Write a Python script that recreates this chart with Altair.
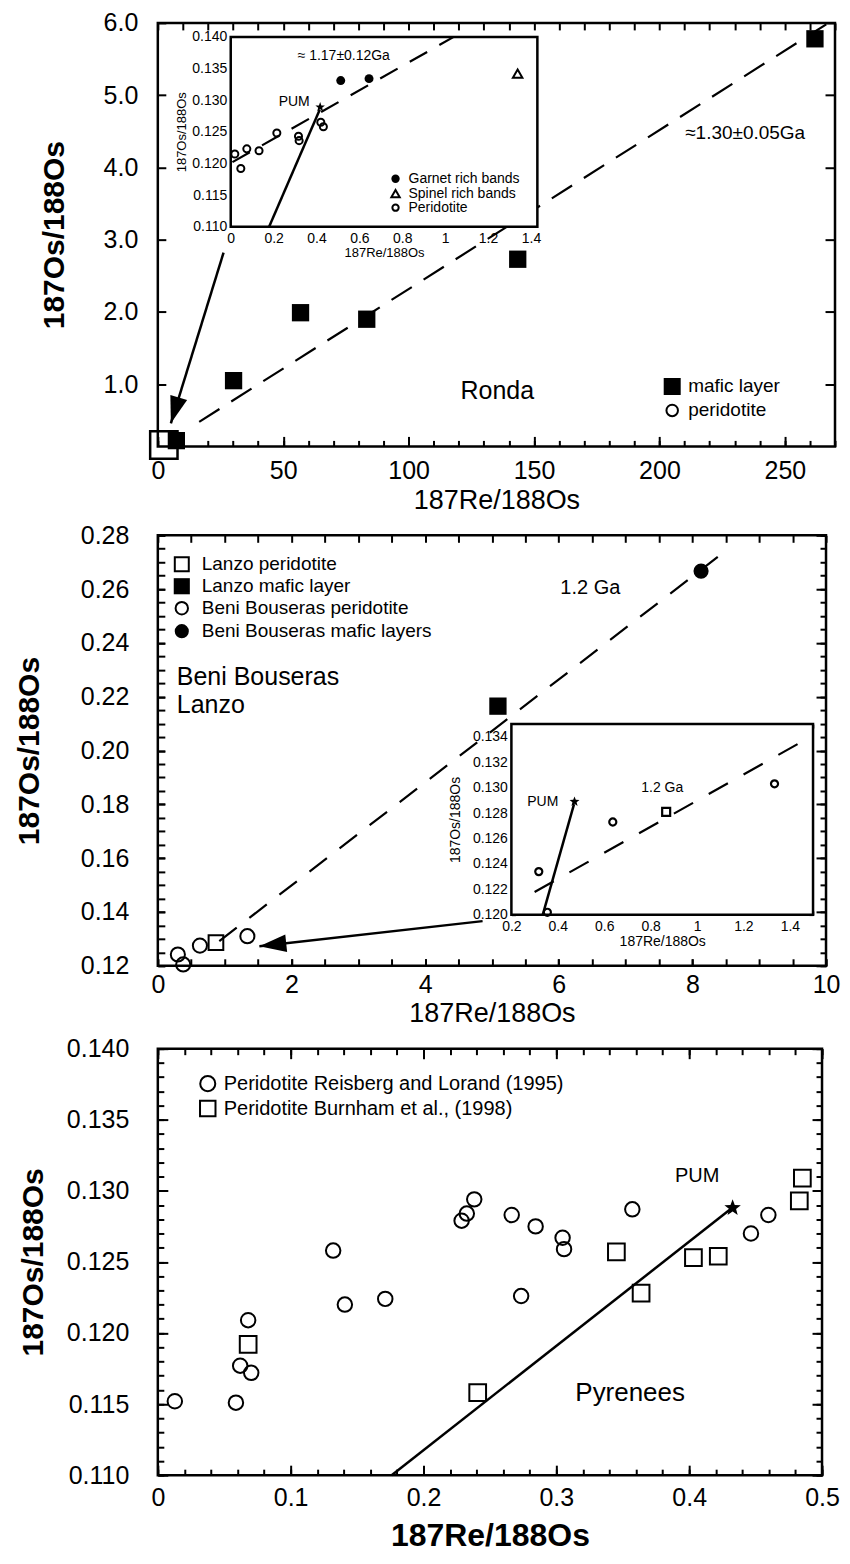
import math
import altair as alt
import pandas as pd

FONT = "Liberation Sans"

# ================= Panel 1 : Ronda =================
p1_xdom = [0, 270]
p1_ydom = [0.14, 6.0]
p1_xticks = [0, 50, 100, 150, 200, 250]
p1_xminor = list(range(0, 271, 10))
p1_yticks = [1.0, 2.0, 3.0, 4.0, 5.0, 6.0]
p1_mafic_x = [7.4, 30.2, 56.9, 83.3, 143.5, 262.0]
p1_mafic_y = [0.22, 1.05, 1.99, 1.90, 2.73, 5.78]
p1_box_x = [2.4]
p1_box_y = [0.16]
p1_iso_x = [16.5, 266.5]
p1_iso_y = [0.48, 5.98]
p1_arrow_x = [26.2, 5.2]
p1_arrow_y = [2.82, 0.46]

# inset of panel 1
i1_xdom = [0, 1.43]
i1_ydom = [0.110, 0.140]
i1_xticks = [0, 0.2, 0.4, 0.6, 0.8, 1.0, 1.2, 1.4]
i1_yticks = [0.110, 0.115, 0.120, 0.125, 0.130, 0.135, 0.140]
i1_garnet_x = [0.513, 0.645]
i1_garnet_y = [0.1331, 0.1334]
i1_spinel_x = [1.338]
i1_spinel_y = [0.1342]
i1_perid_x = [0.019, 0.047, 0.075, 0.132, 0.215, 0.316, 0.319, 0.420, 0.432]
i1_perid_y = [0.1215, 0.1192, 0.1223, 0.1220, 0.1248, 0.1243, 0.1236, 0.1265, 0.1258]
i1_pum_x = [0.417]
i1_pum_y = [0.1289]
i1_pumline_x = [0.179, 0.415]
i1_pumline_y = [0.110, 0.1285]
i1_iso_x = [0.008, 1.04]
i1_iso_y = [0.1202, 0.140]

# ================= Panel 2 : Beni Bouseras / Lanzo =================
p2_xdom = [0, 10]
p2_ydom = [0.12, 0.28]
p2_xticks = [0, 2, 4, 6, 8, 10]
p2_xminor = [round(0.5 * i, 1) for i in range(21)]
p2_yticks = [0.12, 0.14, 0.16, 0.18, 0.20, 0.22, 0.24, 0.26, 0.28]
p2_yminor = [round(0.12 + 0.005 * i, 3) for i in range(33)]
p2_lanzo_per_x = [0.87]
p2_lanzo_per_y = [0.1286]
p2_lanzo_maf_x = [5.09]
p2_lanzo_maf_y = [0.2165]
p2_beni_per_x = [0.30, 0.38, 0.63, 1.34]
p2_beni_per_y = [0.1242, 0.1205, 0.1275, 0.1310]
p2_beni_maf_x = [8.13]
p2_beni_maf_y = [0.2667]
p2_iso_x = [0.92, 8.55]
p2_iso_y = [0.1292, 0.2752]
p2_arrow_x = [4.86, 1.52]
p2_arrow_y = [0.1366, 0.1273]

# inset of panel 2
i2_xdom = [0.2, 1.5]
i2_ydom = [0.120, 0.135]
i2_xticks = [0.2, 0.4, 0.6, 0.8, 1.0, 1.2, 1.4]
i2_xminor = [round(0.2 + 0.1 * i, 1) for i in range(14)]
i2_yticks = [0.120, 0.122, 0.124, 0.126, 0.128, 0.130, 0.132, 0.134]
i2_yminor = [round(0.120 + 0.001 * i, 3) for i in range(16)]
i2_beni_x = [0.318, 0.355, 0.637, 1.334]
i2_beni_y = [0.1234, 0.1202, 0.1273, 0.1303]
i2_lanzo_x = [0.867]
i2_lanzo_y = [0.1281]
i2_pum_x = [0.472]
i2_pum_y = [0.1289]
i2_pumline_x = [0.335, 0.470]
i2_pumline_y = [0.120, 0.1287]
i2_iso_x = [0.30, 1.47]
i2_iso_y = [0.1218, 0.1338]

# ================= Panel 3 : Pyrenees =================
p3_xdom = [0, 0.5]
p3_ydom = [0.110, 0.140]
p3_xticks = [0, 0.1, 0.2, 0.3, 0.4, 0.5]
p3_xminor = [round(0.02 * i, 2) for i in range(26)]
p3_yticks = [0.110, 0.115, 0.120, 0.125, 0.130, 0.135, 0.140]
p3_yminor = [round(0.110 + 0.001 * i, 3) for i in range(31)]
p3_reis_x = [0.0128, 0.0588, 0.0620, 0.0703, 0.0680, 0.1320, 0.1408, 0.1712, 0.2287,
             0.2326, 0.2382, 0.2664, 0.2735, 0.2844, 0.3047, 0.3058, 0.3572, 0.4465, 0.4596]
p3_reis_y = [0.1152, 0.1151, 0.1177, 0.1172, 0.1209, 0.1258, 0.1220, 0.1224, 0.1279,
             0.1284, 0.1294, 0.1283, 0.1226, 0.1275, 0.1267, 0.1259, 0.1287, 0.1270, 0.1283]
p3_burn_x = [0.0680, 0.2408, 0.3452, 0.3638, 0.4032, 0.4219, 0.4829, 0.4852]
p3_burn_y = [0.1192, 0.1158, 0.1257, 0.1228, 0.1253, 0.1254, 0.1293, 0.1309]
p3_pum_x = [0.4327]
p3_pum_y = [0.1288]
p3_pumline_x = [0.176, 0.431]
p3_pumline_y = [0.110, 0.1287]

# ================= helpers =================
star = []
for k in range(10):
    a = math.radians(-90 + 36 * k)
    r = 1.0 if k % 2 == 0 else 0.42
    star.append(f"{r * math.cos(a):.3f},{r * math.sin(a):.3f}")
STAR = "M" + "L".join(star) + "Z"
ARROW = "M0,0L-0.65,-2L0.65,-2Z"


def sc(dom, rng=None):
    if rng is None:
        return alt.Scale(domain=dom, nice=False, zero=False)
    return alt.Scale(domain=dom, range=rng, nice=False, zero=False)


def ax(orient, values, L, shift=0, labels=False, fs=25, lp=8, fmt=None,
       title=None, tfs=27, tw="normal", tp=8, tickw=2):
    kw = dict(orient=orient, values=values, tickSize=L, offset=-(L + shift),
              domain=False, ticks=True, tickColor="black", tickWidth=tickw,
              grid=False, labels=labels, minExtent=0)
    if labels:
        kw.update(labelFont=FONT, labelFontSize=fs, labelColor="black",
                  labelPadding=lp, labelFlush=False, labelOverlap=False)
        if fmt:
            kw["format"] = fmt
    if title:
        kw.update(title=title, titleFont=FONT, titleFontSize=tfs,
                  titleFontWeight=tw, titleColor="black", titlePadding=tp)
    else:
        kw["title"] = None
    return alt.Axis(**kw)


def carrier(xdom, ydom, xaxis=None, yaxis=None, xr=None, yr=None):
    df = pd.DataFrame({"x": xdom, "y": ydom})
    return alt.Chart(df).mark_point(opacity=0, size=1).encode(
        x=alt.X("x:Q", scale=sc(xdom, xr), axis=xaxis),
        y=alt.Y("y:Q", scale=sc(ydom, yr), axis=yaxis))


def pts(xs, ys, xdom, ydom, xr=None, yr=None, **mk):
    df = pd.DataFrame({"x": xs, "y": ys})
    base = dict(color="black", opacity=1)
    base.update(mk)
    return alt.Chart(df).mark_point(**base).encode(
        x=alt.X("x:Q", scale=sc(xdom, xr), axis=None),
        y=alt.Y("y:Q", scale=sc(ydom, yr), axis=None))


def line(xs, ys, xdom, ydom, xr=None, yr=None, dash=None, sw=2):
    df = pd.DataFrame({"x": xs, "y": ys, "o": list(range(len(xs)))})
    kw = dict(color="black", strokeWidth=sw)
    if dash:
        kw["strokeDash"] = dash
    return alt.Chart(df).mark_line(**kw).encode(
        x=alt.X("x:Q", scale=sc(xdom, xr), axis=None),
        y=alt.Y("y:Q", scale=sc(ydom, yr), axis=None),
        order="o:Q")


def arrow(xs, ys, xdom, ydom, angle, size=729):
    df = pd.DataFrame({"x": [xs[0]], "y": [ys[0]], "x2": [xs[1]], "y2": [ys[1]]})
    shaft = alt.Chart(df).mark_rule(color="black", strokeWidth=2.5).encode(
        x=alt.X("x:Q", scale=sc(xdom), axis=None), x2="x2:Q",
        y=alt.Y("y:Q", scale=sc(ydom), axis=None), y2="y2:Q")
    head = pts([xs[1]], [ys[1]], xdom, ydom, shape=ARROW, filled=True,
               size=size, angle=angle)
    return [shaft, head]


def frame(xdom, ydom, xr, yr):
    df = pd.DataFrame({"x": [xdom[0]], "x2": [xdom[1]], "y": [ydom[0]], "y2": [ydom[1]]})
    return alt.Chart(df).mark_rect(fill="white", stroke="black", strokeWidth=2.5).encode(
        x=alt.X("x:Q", scale=sc(xdom, xr), axis=None), x2="x2:Q",
        y=alt.Y("y:Q", scale=sc(ydom, yr), axis=None), y2="y2:Q")


def txt(s, x, y, fs, align="left", weight="normal", baseline="middle"):
    return alt.Chart(pd.DataFrame({"t": [s]})).mark_text(
        align=align, baseline=baseline, font=FONT, fontSize=fs,
        fontWeight=weight, color="black").encode(
        text="t:N", x=alt.value(x), y=alt.value(y))


def sym(x, y, shape, filled, size, sw=2):
    return alt.Chart(pd.DataFrame({"a": [0]})).mark_point(
        shape=shape, filled=filled, size=size, color="black", opacity=1,
        strokeWidth=sw).encode(x=alt.value(x), y=alt.value(y))


# ================= build panel 1 =================
W1, H1 = 678, 424
I1X = [73, 380]
I1Y = [204, 14]
p1_layers = [
    carrier(p1_xdom, p1_ydom,
            ax("bottom", p1_xticks, 10, labels=True, lp=12, fmt="d",
               title="187Re/188Os", tfs=27, tp=4),
            ax("left", p1_yticks, 8, labels=True, lp=20, fmt=".1f",
               title="187Os/188Os", tfs=30, tw="bold", tp=34)),
    carrier(p1_xdom, p1_ydom, ax("bottom", p1_xminor, 6), ax("right", p1_yticks, 10)),
    carrier(p1_xdom, p1_ydom, ax("top", p1_xminor, 7)),
    line(p1_iso_x, p1_iso_y, p1_xdom, p1_ydom, dash=[24, 14], sw=2.2),
    pts(p1_mafic_x, p1_mafic_y, p1_xdom, p1_ydom, shape="square", filled=True, size=300),
    pts(p1_box_x, p1_box_y, p1_xdom, p1_ydom, shape="square", filled=False, size=750, strokeWidth=2.5),
]
p1_layers += arrow(p1_arrow_x, p1_arrow_y, p1_xdom, p1_ydom, angle=17)
p1_layers += [
    txt("≈1.30±0.05Ga", 528, 110, 19),
    txt("Ronda", 303, 369, 25),
    sym(515, 364, "square", True, 290),
    txt("mafic layer", 531, 364, 19),
    sym(515, 388, "circle", False, 133),
    txt("peridotite", 531, 388, 19),
    # inset
    frame(i1_xdom, i1_ydom, I1X, I1Y),
    carrier(i1_xdom, i1_ydom,
            ax("bottom", i1_xticks, 4, shift=H1 - I1Y[0], labels=True, fs=14, lp=5, fmt="~g",
               title="187Re/188Os", tfs=13, tp=1, tickw=1.5),
            ax("left", i1_yticks, 4, shift=I1X[0], labels=True, fs=14, lp=4, fmt=".3f",
               title="187Os/188Os", tfs=13, tp=3, tickw=1.5),
            xr=I1X, yr=I1Y),
    line(i1_iso_x, i1_iso_y, i1_xdom, i1_ydom, I1X, I1Y, dash=[20, 14], sw=2.2),
    line(i1_pumline_x, i1_pumline_y, i1_xdom, i1_ydom, I1X, I1Y, sw=2.5),
    pts(i1_garnet_x, i1_garnet_y, i1_xdom, i1_ydom, I1X, I1Y, shape="circle", filled=True, size=80),
    pts(i1_spinel_x, i1_spinel_y, i1_xdom, i1_ydom, I1X, I1Y, shape="triangle-up", filled=False, size=90, strokeWidth=2),
    pts(i1_perid_x, i1_perid_y, i1_xdom, i1_ydom, I1X, I1Y, shape="circle", filled=False, size=50, strokeWidth=2),
    pts(i1_pum_x, i1_pum_y, i1_xdom, i1_ydom, I1X, I1Y, shape=STAR, filled=True, size=100),
    txt("≈ 1.17±0.12Ga", 140, 33, 14),
    txt("PUM", 121, 79, 14),
    sym(238, 156, "circle", True, 70),
    txt("Garnet rich bands", 251, 156, 14),
    sym(238, 171, "triangle-up", False, 70),
    txt("Spinel rich bands", 251, 171, 14),
    sym(238, 185, "circle", False, 40),
    txt("Peridotite", 251, 185, 14),
]
panel1 = alt.layer(*p1_layers).resolve_scale(x="independent", y="independent").properties(width=W1, height=H1)

# ================= build panel 2 =================
W2, H2 = 669, 431
I2X = [354, 656]
I2Y = [380, 189]
p2_layers = [
    carrier(p2_xdom, p2_ydom,
            ax("bottom", p2_xticks, 7, labels=True, lp=7, fmt="d",
               title="187Re/188Os", tfs=27, tp=3),
            ax("left", p2_yticks, 7, labels=True, lp=29, fmt=".2f",
               title="187Os/188Os", tfs=30, tw="bold", tp=36)),
    carrier(p2_xdom, p2_ydom, ax("bottom", p2_xminor, 7), ax("left", p2_yminor, 7)),
    carrier(p2_xdom, p2_ydom, ax("top", p2_xminor, 7), ax("right", p2_yticks, 10)),
    carrier(p2_xdom, p2_ydom, None, ax("right", p2_yminor, 6)),
    line(p2_iso_x, p2_iso_y, p2_xdom, p2_ydom, dash=[22, 16], sw=2.2),
    pts(p2_lanzo_per_x, p2_lanzo_per_y, p2_xdom, p2_ydom, shape="square", filled=False, size=216, strokeWidth=2),
    pts(p2_lanzo_maf_x, p2_lanzo_maf_y, p2_xdom, p2_ydom, shape="square", filled=True, size=300),
    pts(p2_beni_per_x, p2_beni_per_y, p2_xdom, p2_ydom, shape="circle", filled=False, size=200, strokeWidth=2),
    pts(p2_beni_maf_x, p2_beni_maf_y, p2_xdom, p2_ydom, shape="circle", filled=True, size=230),
]
p2_layers += arrow(p2_arrow_x, p2_arrow_y, p2_xdom, p2_ydom, angle=84)
p2_layers += [
    txt("1.2 Ga", 433, 53, 20, align="center"),
    sym(24, 29, "square", False, 196),
    txt("Lanzo peridotite", 44, 29, 19),
    sym(24, 51, "square", True, 260),
    txt("Lanzo mafic layer", 44, 51, 19),
    sym(24, 73, "circle", False, 154),
    txt("Beni Bouseras peridotite", 44, 73, 19),
    sym(24, 96, "circle", True, 200),
    txt("Beni Bouseras mafic layers", 44, 96, 19),
    txt("Beni Bouseras", 19, 142, 25),
    txt("Lanzo", 19, 170, 25),
    # inset
    frame(i2_xdom, i2_ydom, I2X, I2Y),
    carrier(i2_xdom, i2_ydom,
            ax("bottom", i2_xticks, 4, shift=H2 - I2Y[0], labels=True, fs=14, lp=5, fmt="~g",
               title="187Re/188Os", tfs=14, tp=1, tickw=1.5),
            ax("left", i2_yticks, 4, shift=I2X[0], labels=True, fs=14, lp=4, fmt=".3f",
               title="187Os/188Os", tfs=14, tp=10, tickw=1.5),
            xr=I2X, yr=I2Y),
    carrier(i2_xdom, i2_ydom, ax("bottom", i2_xminor, 4, shift=H2 - I2Y[0], tickw=1.5),
            ax("left", i2_yminor, 4, shift=I2X[0], tickw=1.5), xr=I2X, yr=I2Y),
    carrier(i2_xdom, i2_ydom, ax("top", i2_xminor, 4, shift=I2Y[1], tickw=1.5),
            ax("right", i2_yminor, 4, shift=W2 - I2X[1], tickw=1.5), xr=I2X, yr=I2Y),
    line(i2_iso_x, i2_iso_y, i2_xdom, i2_ydom, I2X, I2Y, dash=[22, 18], sw=2.2),
    line(i2_pumline_x, i2_pumline_y, i2_xdom, i2_ydom, I2X, I2Y, sw=2.5),
    pts(i2_beni_x, i2_beni_y, i2_xdom, i2_ydom, I2X, I2Y, shape="circle", filled=False, size=50, strokeWidth=2.2),
    pts(i2_lanzo_x, i2_lanzo_y, i2_xdom, i2_ydom, I2X, I2Y, shape="square", filled=False, size=64, strokeWidth=2.2),
    pts(i2_pum_x, i2_pum_y, i2_xdom, i2_ydom, I2X, I2Y, shape=STAR, filled=True, size=110),
    txt("PUM", 401, 267, 14, align="right"),
    txt("1.2 Ga", 505, 253, 14, align="center"),
]
panel2 = alt.layer(*p2_layers).resolve_scale(x="independent", y="independent").properties(width=W2, height=H2)

# ================= build panel 3 =================
W3, H3 = 665, 427
p3_layers = [
    carrier(p3_xdom, p3_ydom,
            ax("bottom", p3_xticks, 10, labels=True, lp=10, fmt="~g",
               title="187Re/188Os", tfs=32, tw="bold", tp=10),
            ax("left", p3_yticks, 10, labels=True, lp=29, fmt=".3f",
               title="187Os/188Os", tfs=30, tw="bold", tp=18)),
    carrier(p3_xdom, p3_ydom, ax("bottom", p3_xminor, 6), ax("left", p3_yminor, 6)),
    carrier(p3_xdom, p3_ydom, ax("top", p3_xticks, 10), ax("right", p3_yticks, 10)),
    carrier(p3_xdom, p3_ydom, ax("top", p3_xminor, 6), ax("right", p3_yminor, 6)),
    line(p3_pumline_x, p3_pumline_y, p3_xdom, p3_ydom, sw=2.5),
    pts(p3_reis_x, p3_reis_y, p3_xdom, p3_ydom, shape="circle", filled=False, size=210, strokeWidth=2),
    pts(p3_burn_x, p3_burn_y, p3_xdom, p3_ydom, shape="square", filled=False, size=280, strokeWidth=2),
    pts(p3_pum_x, p3_pum_y, p3_xdom, p3_ydom, shape=STAR, filled=True, size=300),
    sym(50, 35, "circle", False, 227),
    txt("Peridotite Reisberg and  Lorand (1995)", 66, 35, 20),
    sym(50, 60, "square", False, 240),
    txt("Peridotite Burnham et al., (1998)", 66, 60, 20),
    txt("PUM", 540, 127, 20, align="center"),
    txt("Pyrenees", 418, 345, 26),
]
panel3 = alt.layer(*p3_layers).resolve_scale(x="independent", y="independent").properties(width=W3, height=H3)

chart = alt.vconcat(panel1, panel2, panel3, spacing=6).properties(
    padding={"left": 5, "top": 0, "right": 0, "bottom": 5},
    background="white",
).configure_view(stroke="black", strokeWidth=2.5)

chart.save("out.html", embed_options={"renderer": "svg", "actions": False})
